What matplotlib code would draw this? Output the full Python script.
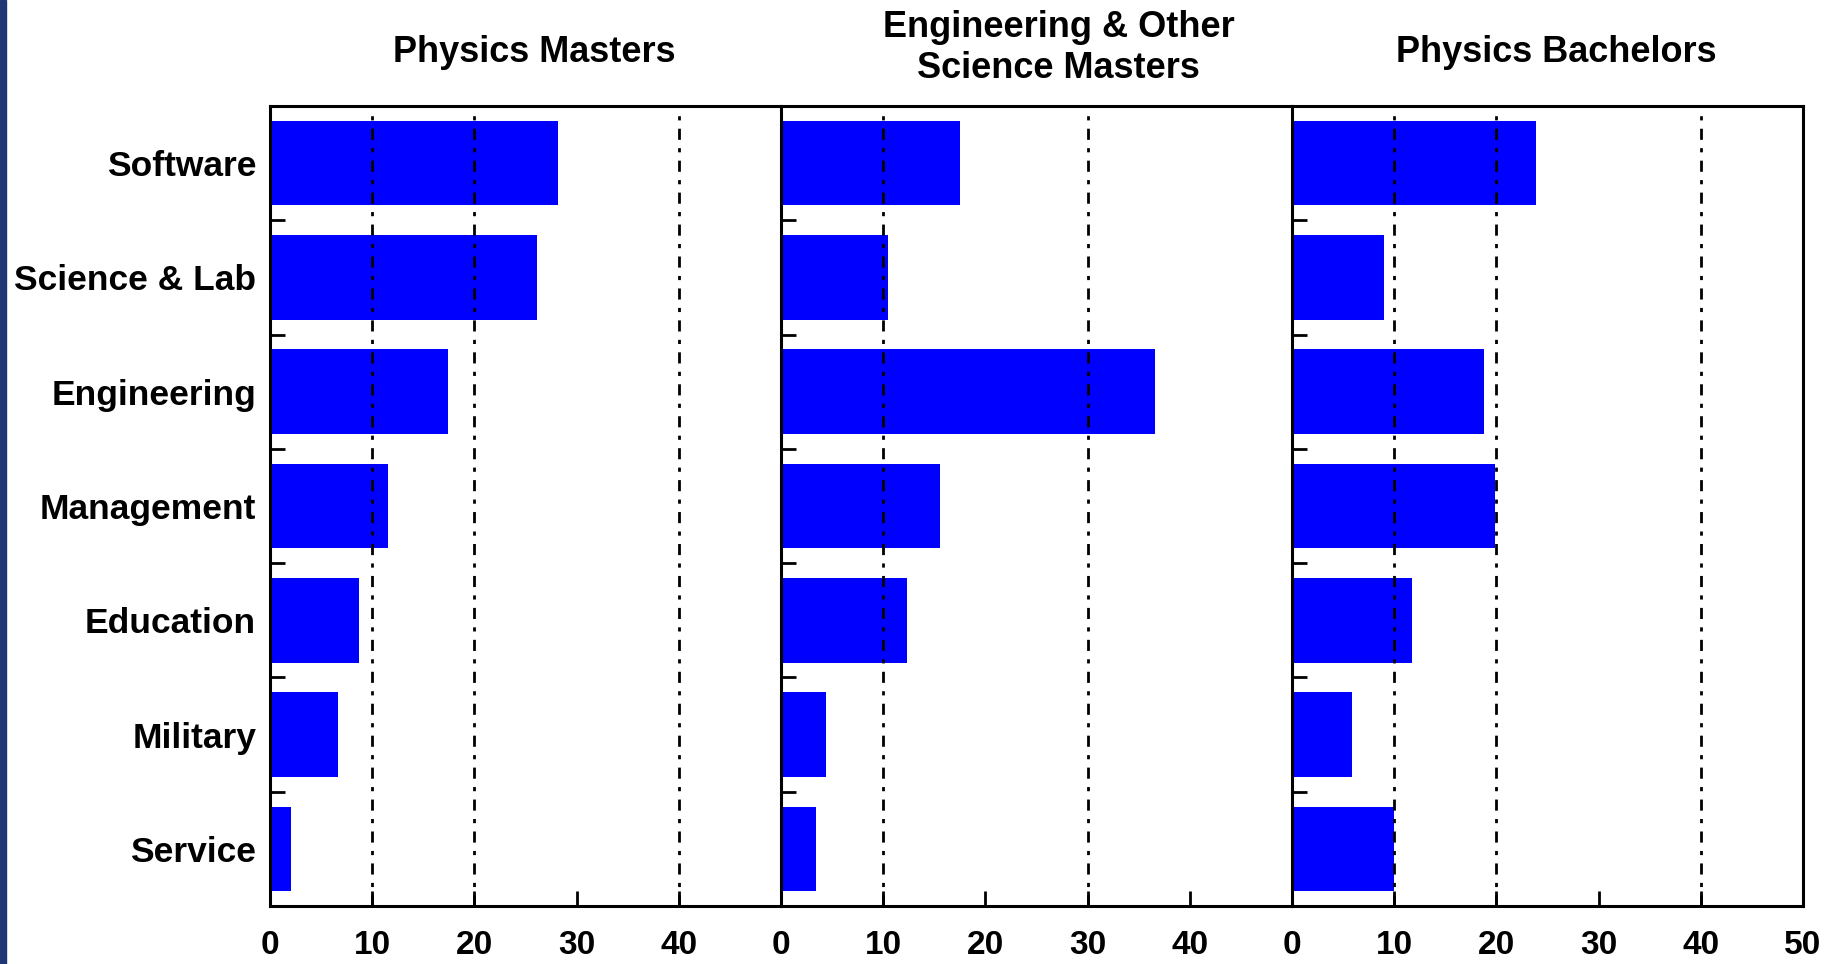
import numpy as np
import matplotlib.pyplot as plt

# percent of graduates in each job category
categories = ["Software", "Science & Lab", "Engineering", "Management",
              "Education", "Military", "Service"]
phys_masters = [28.2, 26.1, 17.4, 11.5, 8.7, 6.7, 2.1]
eng_masters = [17.5, 10.5, 36.6, 15.6, 12.3, 4.4, 3.4]
phys_bachelors = [23.9, 9.0, 18.8, 19.9, 11.7, 5.9, 10.0]

titles = ["Physics Masters", "Engineering & Other\nScience Masters", "Physics Bachelors"]
grid_x = [[10, 20, 40], [0, 10, 30], [10, 20, 40]]
xtick_labels = [[0, 10, 20, 30, 40], [0, 10, 20, 30, 40], [0, 10, 20, 30, 40, 50]]

plt.rcParams['font.family'] = ['Liberation Sans', 'DejaVu Sans']
plt.rcParams['font.weight'] = 'bold'

fig = plt.figure(figsize=(18.41, 9.64), dpi=100)
fig.patches.append(plt.Rectangle((0, 0), 6 / 1841, 1, transform=fig.transFigure,
                                 color="#1f3775", zorder=10))

series = [phys_masters, eng_masters, phys_bachelors]
x0 = 270 / 1841
w = 511 / 1841
bottom = 1 - 906 / 964
h = (906 - 106) / 964
y = np.arange(len(categories))[::-1]

for i, vals in enumerate(series):
    ax = fig.add_axes([x0 + i * w, bottom, w, h])
    ax.barh(y, vals, height=0.74, color="#0000ff", zorder=2)
    ax.set_xlim(0, 50)
    ax.set_ylim(-0.5, len(categories) - 0.5)
    for gx in grid_x[i]:
        ax.axvline(gx, color="black", lw=2, linestyle=(0, (4, 3, 1.5, 3)), zorder=3)

    ax.set_xticks(xtick_labels[i])
    ax.set_xticklabels([str(t) for t in xtick_labels[i]], fontsize=24, fontweight="bold")
    ax.tick_params(axis="x", direction="in", length=11, width=2, pad=17)

    ax.set_yticks(y)
    if i == 0:
        ax.set_yticklabels(categories, fontsize=25.5, fontweight="bold")
    else:
        ax.set_yticklabels([])
    ax.tick_params(axis="y", which="major", length=0, pad=10)
    ax.set_yticks(np.arange(0.5, len(categories) - 1, 1), minor=True)
    ax.tick_params(axis="y", which="minor", direction="in", length=11, width=2)

    for side in ["left", "top", "bottom", "right"]:
        ax.spines[side].set_linewidth(2.2)
    if i < 2:
        ax.spines["right"].set_visible(False)

    if "\n" in titles[i]:
        ty = 1 - 48 / 964
        tx = x0 + i * w + w / 2 + 0.012
    else:
        ty = 1 - 52 / 964
        tx = x0 + i * w + w / 2 + 0.005
    fig.text(tx, ty, titles[i], ha="center", va="center",
             fontsize=26, fontweight="bold", linespacing=1.2)

plt.savefig("out.png", dpi=100)
